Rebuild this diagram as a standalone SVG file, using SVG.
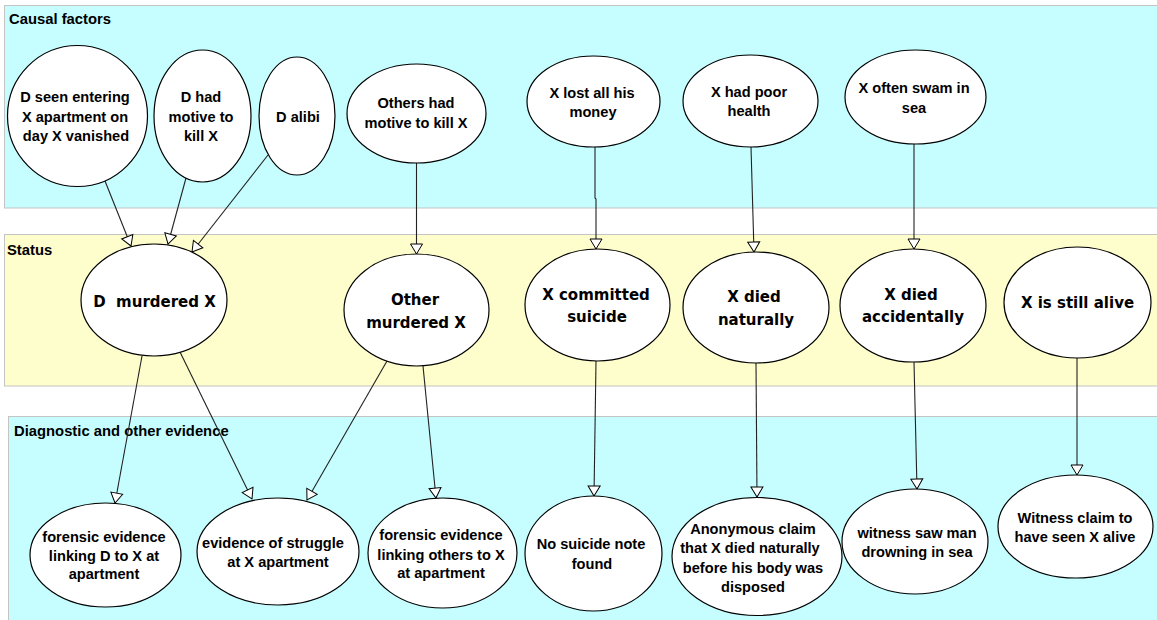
<svg xmlns="http://www.w3.org/2000/svg" width="1157" height="620" viewBox="0 0 1157 620">
<style>
.band{stroke:#c4c4c4;stroke-width:1}
.cyan{fill:#c6feff}
.yellow{fill:#fefdcc}
.blabel{font-family:"Liberation Sans",Arial,sans-serif;font-weight:bold;font-size:14.8px;fill:#000}
.node ellipse{fill:#fff;stroke:#000;stroke-width:1.2}
.t{font-family:"Liberation Sans",Arial,sans-serif;font-weight:bold;font-size:14.6px;fill:#000;text-anchor:middle}
.s{font-family:"DejaVu Sans",Verdana,sans-serif;font-weight:bold;font-size:15px;fill:#000;text-anchor:middle}
.edge{stroke:#222;stroke-width:1.1;fill:none;marker-end:url(#arr)}
</style>
<defs>
<marker id="arr" markerUnits="userSpaceOnUse" viewBox="0 0 12 14" refX="11" refY="7" markerWidth="12" markerHeight="14" orient="auto">
<path d="M1,1 L11,7 L1,13 z" fill="#fff" stroke="#000" stroke-width="1"/>
</marker>
</defs>
<rect width="1157" height="620" fill="#fff"/>
<g id="bands">
<rect class="band cyan" x="4.5" y="5.5" width="1160" height="202.5"/>
<rect class="band yellow" x="4.5" y="234.5" width="1160" height="151.5"/>
<rect class="band cyan" x="8.5" y="416.5" width="1160" height="210"/>
<text class="blabel" x="9" y="24">Causal factors</text>
<text class="blabel" x="7" y="255">Status</text>
<text class="blabel" x="14" y="436">Diagnostic and other evidence</text>
</g>
<g id="connectors">
<line class="edge" x1="105" y1="181" x2="131" y2="246"/>
<line class="edge" x1="186" y1="178" x2="168" y2="244"/>
<line class="edge" x1="268" y1="155" x2="192" y2="252"/>
<line class="edge" x1="416.5" y1="163" x2="416.5" y2="254"/>
<polyline class="edge" points="595,147 595,198 596,199 596,249"/>
<line class="edge" x1="751" y1="147" x2="754" y2="252"/>
<line class="edge" x1="914" y1="144" x2="914" y2="249"/>
<line class="edge" x1="142" y1="356" x2="115" y2="503"/>
<line class="edge" x1="180" y1="352" x2="252" y2="499"/>
<line class="edge" x1="387" y1="361" x2="307" y2="500"/>
<line class="edge" x1="423" y1="366" x2="436" y2="498"/>
<line class="edge" x1="596" y1="361" x2="594" y2="496"/>
<line class="edge" x1="756" y1="363" x2="757" y2="497"/>
<line class="edge" x1="914" y1="362" x2="917" y2="489"/>
<line class="edge" x1="1077" y1="358" x2="1077" y2="475"/>
</g>
<g id="n_dseen" class="node"><ellipse cx="77.5" cy="116" rx="70" ry="70.5"/>
<text class="t" x="75" y="102">D seen entering</text><text class="t" x="75" y="122">X apartment on</text><text class="t" x="76" y="141">day X vanished</text></g>
<g id="n_dmotive" class="node"><ellipse cx="202.5" cy="116" rx="48.5" ry="66"/>
<text class="t" x="201" y="102">D had</text><text class="t" x="201" y="122">motive to</text><text class="t" x="201" y="141">kill X</text></g>
<g id="n_dalibi" class="node"><ellipse cx="297" cy="116" rx="38" ry="59"/>
<text class="t" x="298" y="122">D alibi</text></g>
<g id="n_othersmotive" class="node"><ellipse cx="416.5" cy="113.5" rx="69.5" ry="49.5"/>
<text class="t" x="416" y="108">Others had</text><text class="t" x="416" y="128">motive to kill X</text></g>
<g id="n_lostmoney" class="node"><ellipse cx="593.5" cy="101.5" rx="66.5" ry="45.5"/>
<text class="t" x="592" y="98">X lost all his</text><text class="t" x="593" y="117">money</text></g>
<g id="n_poorhealth" class="node"><ellipse cx="750.5" cy="101" rx="67.5" ry="46"/>
<text class="t" x="749" y="97">X had poor</text><text class="t" x="749" y="116">health</text></g>
<g id="n_swam" class="node"><ellipse cx="915.5" cy="97" rx="70.5" ry="47"/>
<text class="t" x="914" y="93">X often swam in</text><text class="t" x="914" y="113">sea</text></g>
<g id="s_dmurdered" class="node"><ellipse cx="154" cy="300" rx="73" ry="56"/>
<text class="s" x="154.5" y="307" xml:space="preserve">D  murdered X</text></g>
<g id="s_othermurdered" class="node"><ellipse cx="416.5" cy="310" rx="72.5" ry="56"/>
<text class="s" x="415" y="305">Other</text><text class="s" x="416" y="328">murdered X</text></g>
<g id="s_suicide" class="node"><ellipse cx="597.5" cy="305" rx="72.5" ry="56"/>
<text class="s" x="596" y="300">X committed</text><text class="s" x="597" y="322">suicide</text></g>
<g id="s_naturally" class="node"><ellipse cx="756" cy="307.5" rx="73" ry="55.5"/>
<text class="s" x="754" y="302">X died</text><text class="s" x="756" y="325">naturally</text></g>
<g id="s_accidentally" class="node"><ellipse cx="913" cy="305.5" rx="73" ry="56.5"/>
<text class="s" x="911" y="300">X died</text><text class="s" x="913" y="322">accidentally</text></g>
<g id="s_alive" class="node"><ellipse cx="1077.5" cy="302.5" rx="73.5" ry="55.5"/>
<text class="s" x="1077.5" y="308">X is still alive</text></g>
<g id="e_forensicD" class="node"><ellipse cx="105.5" cy="555" rx="75.5" ry="52"/>
<text class="t" x="104" y="542">forensic evidence</text><text class="t" x="104" y="561">linking D to X at</text><text class="t" x="104" y="579">apartment</text></g>
<g id="e_struggle" class="node"><ellipse cx="278" cy="551.5" rx="81" ry="53.5"/>
<text class="t" x="273" y="548">evidence of struggle</text><text class="t" x="278" y="567">at X apartment</text></g>
<g id="e_forensicOthers" class="node"><ellipse cx="442.5" cy="553" rx="74.5" ry="55"/>
<text class="t" x="441" y="540">forensic evidence</text><text class="t" x="441" y="560">linking others to X</text><text class="t" x="441" y="578">at apartment</text></g>
<g id="e_nonote" class="node"><ellipse cx="593.5" cy="553.5" rx="68.5" ry="57.5"/>
<text class="t" x="591" y="549">No suicide note</text><text class="t" x="592" y="569">found</text></g>
<g id="e_anonymous" class="node"><ellipse cx="757" cy="556.5" rx="85" ry="59"/>
<text class="t" x="753" y="534">Anonymous claim</text><text class="t" x="750" y="553">that X died naturally</text><text class="t" x="753" y="573">before his body was</text><text class="t" x="753" y="592">disposed</text></g>
<g id="e_drowning" class="node"><ellipse cx="915" cy="541.5" rx="73" ry="52.5"/>
<text class="t" x="917" y="538">witness saw man</text><text class="t" x="917" y="557">drowning in sea</text></g>
<g id="e_witnessalive" class="node"><ellipse cx="1075.5" cy="526.5" rx="77.5" ry="51.5"/>
<text class="t" x="1075" y="523">Witness claim to</text><text class="t" x="1075" y="542">have seen X alive</text></g>
</svg>
